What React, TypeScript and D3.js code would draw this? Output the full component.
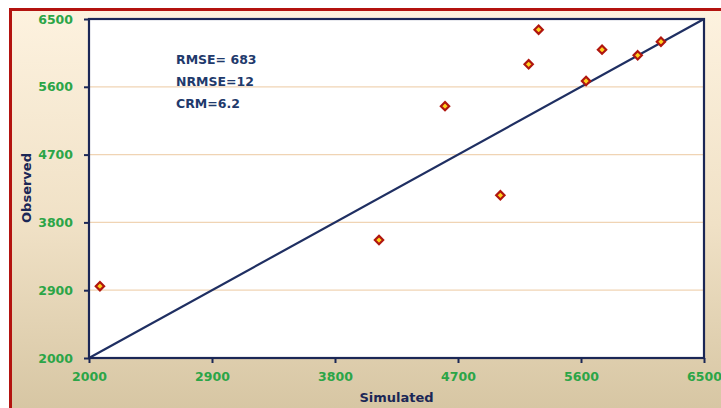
import { useEffect, useRef } from 'react'
import * as d3 from 'd3'

// simulated vs observed pairs
const simulated = [2080, 4122, 4605, 5010, 5217, 5290, 5637, 5754, 6015, 6185]
const observed = [2953, 3566, 5343, 4160, 5899, 6358, 5677, 6093, 6018, 6199]
const tickValues = [2000, 2900, 3800, 4700, 5600, 6500]
const stats = ['RMSE= 683', 'NRMSE=12', 'CRM=6.2']

const W = 721
const H = 408

export default function App() {
  const svgRef = useRef<SVGSVGElement>(null)

  useEffect(() => {
    if (!svgRef.current) return
    const svg = d3.select(svgRef.current)
    svg.selectAll('*').remove()

    const margin = { top: 19, right: 17, bottom: 50, left: 89 }
    const innerW = W - margin.left - margin.right
    const innerH = H - margin.top - margin.bottom
    const font = '"DejaVu Sans", sans-serif'
    const green = '#2ba547'
    const navy = '#1b2756'

    const defs = svg.append('defs')
    const grad = defs.append('linearGradient').attr('id', 'bg').attr('x1', 0).attr('y1', 0).attr('x2', 0).attr('y2', 1)
    grad.append('stop').attr('offset', '0%').attr('stop-color', '#fdf2df')
    grad.append('stop').attr('offset', '50%').attr('stop-color', '#f0e1c6')
    grad.append('stop').attr('offset', '100%').attr('stop-color', '#d3c29e')

    // outer frame (runs off the right and bottom edges)
    svg.append('rect').attr('x', 10.5).attr('y', 9.5).attr('width', W + 20).attr('height', H + 20)
      .attr('fill', 'url(#bg)').attr('stroke', '#b3130f').attr('stroke-width', 3)

    const g = svg.append('g').attr('transform', `translate(${margin.left},${margin.top})`)

    const x = d3.scaleLinear().domain([2000, 6500]).range([0, innerW])
    const y = d3.scaleLinear().domain([2000, 6500]).range([innerH, 0])

    g.append('rect').attr('width', innerW).attr('height', innerH).attr('fill', '#fff')

    // Grid
    g.append('g').selectAll('line')
      .data(tickValues.slice(1, -1))
      .join('line')
      .attr('x1', 0).attr('x2', innerW)
      .attr('y1', d => y(d)).attr('y2', d => y(d))
      .attr('stroke', '#f0d4b4').attr('stroke-width', 1.2)

    // 1:1 line
    g.append('line')
      .attr('x1', x(2000)).attr('y1', y(2000)).attr('x2', x(6500)).attr('y2', y(6500))
      .attr('stroke', '#1f2f62').attr('stroke-width', 2.2)

    // plot border
    g.append('rect').attr('width', innerW).attr('height', innerH)
      .attr('fill', 'none').attr('stroke', navy).attr('stroke-width', 2.2)

    // Axes
    const xAxis = g.append('g')
      .attr('transform', `translate(0,${innerH})`)
      .call(d3.axisBottom(x).tickValues(tickValues).tickSize(5).tickSizeOuter(0).tickPadding(9).tickFormat(d3.format('d')))
    xAxis.select('.domain').remove()
    xAxis.selectAll('line').attr('stroke', navy).attr('stroke-width', 2)
    xAxis.selectAll('text').attr('fill', green).attr('font-family', font).attr('font-weight', 'bold').attr('font-size', '12.5px')

    const yAxis = g.append('g')
      .call(d3.axisLeft(y).tickValues(tickValues).tickSize(5).tickSizeOuter(0).tickPadding(11).tickFormat(d3.format('d')))
    yAxis.select('.domain').remove()
    yAxis.selectAll('line').attr('stroke', navy).attr('stroke-width', 2)
    yAxis.selectAll('text').attr('fill', green).attr('font-family', font).attr('font-weight', 'bold').attr('font-size', '12.5px')

    // Points
    const pts = simulated.map((s, i) => ({ s, o: observed[i] }))
    g.append('g').selectAll('path')
      .data(pts)
      .join('path')
      .attr('d', d3.symbol(d3.symbolDiamond2, 44)())
      .attr('transform', d => `translate(${x(d.s)},${y(d.o)})`)
      .attr('fill', '#ffd21f').attr('stroke', '#b0160f').attr('stroke-width', 2.2)

    // stats text
    g.append('g').selectAll('text')
      .data(stats)
      .join('text')
      .attr('x', 87).attr('y', (_, i) => 45 + i * 22)
      .attr('fill', '#1f3a6c').attr('font-family', font).attr('font-weight', 'bold').attr('font-size', '12.5px')
      .text(d => d)

    // axis titles
    svg.append('text')
      .attr('x', margin.left + innerW / 2).attr('y', 402)
      .attr('text-anchor', 'middle')
      .attr('fill', navy).attr('font-family', font).attr('font-weight', 'bold').attr('font-size', '13px')
      .text('Simulated')

    svg.append('text')
      .attr('transform', 'rotate(-90)')
      .attr('x', -188).attr('y', 31)
      .attr('text-anchor', 'middle')
      .attr('fill', navy).attr('font-family', font).attr('font-weight', 'bold').attr('font-size', '13px')
      .text('Observed')
  }, [])

  return (
    <div style={{ position: 'fixed', left: 0, top: 0, width: W, height: H, background: '#fff' }}>
      <svg ref={svgRef} width={W} height={H} />
    </div>
  )
}
